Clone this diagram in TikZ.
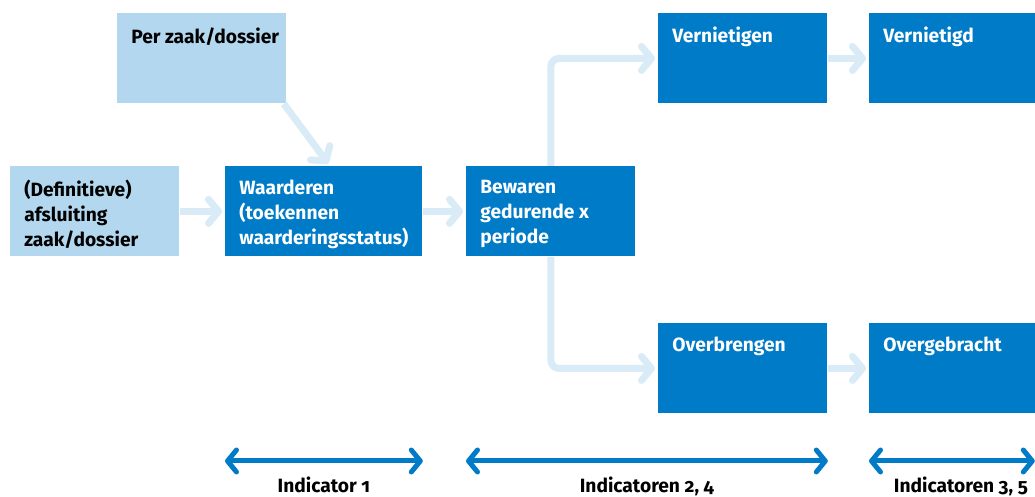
\documentclass[tikz,border=0pt]{standalone}
\usepackage{fontspec}
\setmainfont{Fira Sans}[Numbers=OldStyle]
\usetikzlibrary{arrows.meta,calc}
\definecolor{hemelblauw}{HTML}{007BC7}
\definecolor{hemellicht}{HTML}{B2D7EE}
\definecolor{pijlblauw}{HTML}{D9EBF7}
\tikzset{
  vak/.style={anchor=north west, minimum width=84.5pt, minimum height=45pt, inner sep=0pt},
  stap/.style={vak, fill=hemelblauw},
  invoer/.style={vak, fill=hemellicht},
  tekst/.style={anchor=north west, align=left, inner xsep=7pt, inner ysep=7pt,
    font=\bfseries\fontsize{9.6}{12.5}\selectfont},
  stap tekst/.style={tekst, text=white},
  invoer tekst/.style={tekst, text=black},
  flow/.style={draw=pijlblauw, line width=3.5pt, rounded corners=4pt,
    -{Straight Barb[round,length=5pt,width=12pt]}, shorten >=1.5pt},
  bereik/.style={draw=hemelblauw, line width=2.5pt,
    {Straight Barb[round,length=4.5pt,width=11pt]}-{Straight Barb[round,length=4.5pt,width=11pt]}},
  indicator/.style={midway, anchor=base, yshift=-16pt, text=black,
    font=\bfseries\fontsize{9.6}{11}\selectfont}
}
\newcommand{\zet}[5][]{
  \node[#3, #1, label={[#3 tekst]north west:#5}] (#2) at #4 {};
}

\begin{document}
\begin{tikzpicture}[x=0.5pt, y=-0.5pt]
  \useasboundingbox (0,0) rectangle (1035,497);
  % vakken
  \zet{perzaak}{invoer}{(117,13)}{Per zaak/dossier}
  \zet{afsl}{invoer}{(10,166)}{(Definitieve)\\afsluiting\\zaak/dossier}
  \zet[minimum width=98.5pt]{waard}{stap}{(225,166)}{Waarderen\\(toekennen\\waarderingsstatus)}
  \zet{bew}{stap}{(466,166)}{Bewaren\\gedurende x\\periode}
  \zet{vern}{stap}{(658,13)}{Vernietigen}
  \zet{vnd}{stap}{(869,13)}{Vernietigd}
  \zet{overb}{stap}{(658,323)}{Overbrengen}
  \zet{overg}{stap}{(869,323)}{Overgebracht}
  % pijlen
  \draw[flow] ($(perzaak.south east)+(-3,0)$) -- ($(waard.north west)+(105,0)$);
  \draw[flow] (afsl) -- (waard);
  \draw[flow] (waard) -- (bew);
  \draw[flow] (bew.north) -- (bew.north |- vern.west) -- (vern.west);
  \draw[flow] (bew.south) -- (bew.south |- overb.west) -- (overb.west);
  \draw[flow] (vern) -- (vnd);
  \draw[flow] (overb) -- (overg);
  % indicatoren
  \coordinate (balk) at (0,461);
  \draw[bereik] (waard.west |- balk) -- (waard.east |- balk)
    node[indicator] {Indicator 1};
  \draw[bereik] (bew.west |- balk) -- (vern.east |- balk)
    node[indicator] {Indicatoren 2, 4};
  \draw[bereik] (overg.west |- balk) -- ($(overg.east |- balk)+(-4,0)$)
    node[indicator, xshift=4.5pt] {Indicatoren 3, 5};
\end{tikzpicture}
\end{document}
